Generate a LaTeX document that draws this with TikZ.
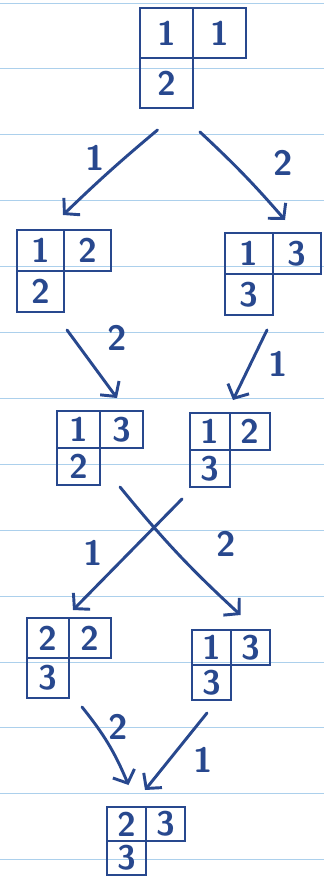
\documentclass[tikz,border=0pt]{standalone}
\usetikzlibrary{arrows.meta,calc}
\definecolor{ink}{RGB}{40,72,142}
\definecolor{ruling}{RGB}{172,208,236}
\newcommand{\pxu}{0.03cm}
% one tableau of shape (2,1): name, x, y, cell width, cell height, entries
\newcommand{\tabl}[8]{%
	\node[cell, minimum width=#4*\pxu, minimum height=#5*\pxu, anchor=north west] (#1-a) at (#2,#3) {#6};
	\node[cell, minimum width=#4*\pxu, minimum height=#5*\pxu, anchor=north west] (#1-b) at (#1-a.north east) {#7};
	\node[cell, minimum width=#4*\pxu, minimum height=#5*\pxu, anchor=north west] (#1-c) at (#1-a.south west) {#8};}

\begin{document}
\begin{tikzpicture}[x=\pxu, y=-\pxu,
	cell/.style={draw=ink, line width=2.5pt, inner sep=0pt, outer sep=0pt, text=ink, font=\sffamily\bfseries\fontsize{29}{29}\selectfont},
	arr/.style={draw=ink, line width=2.5pt, line cap=round, -{Straight Barb[length=9pt,width=20pt,line width=2.5pt]}},
	lbl/.style={text=ink, font=\sffamily\bfseries\fontsize{30}{30}\selectfont}]
	\useasboundingbox (0,0) rectangle (324,877);
	% the ruled paper
	\fill[white] (0,0) rectangle (324,877);
	\foreach \k in {0,...,13}
		\draw[ruling, line width=0.8pt] (0,3+65.9*\k) -- (324,3+65.9*\k);
	% tableaux, top to bottom
	\tabl{t0}{140}{8}{53}{50}{1}{1}{2}
	\tabl{t1}{17}{230}{47}{41}{1}{2}{2}
	\tabl{t2}{225}{233}{48}{41}{1}{3}{3}
	\tabl{t3}{57}{411}{43}{37}{1}{3}{2}
	\tabl{t4}{190}{413}{40}{37}{1}{2}{3}
	\tabl{t5}{27}{618}{42}{40}{2}{2}{3}
	\tabl{t6}{192}{630}{39}{35}{1}{3}{3}
	\tabl{t7}{107}{807}{39}{34}{2}{3}{3}
	% moves
	\draw[arr] ($(t0-c.south)+(-9,22)$) to[bend right=2] ($(t1-a.north east)+(-1,-15)$);
	\node[lbl] (m1) at (95,158) {1};
	\draw[arr] ($(t0-c.south east)+(7,24)$) to[bend left=3] ($(t2-b.north west)+(12,-13)$);
	\node[lbl] (m2) at (283,163) {2};
	\draw[arr] ($(t1-c.south east)+(3,18)$) -- ($(t3-a.north east)+(17,-13)$);
	\node[lbl] (m3) at (117,338) {2};
	\draw[arr] ($(t2-c.south east)+(-6,15)$) -- ($(t4-a.north east)+(3,-13)$);
	\node[lbl] (m4) at (278,364) {1};
	\draw[arr] ($(t3-c.south east)+(20,2)$) to[bend right=4] ($(t6-b.north)+(-10,-15)$);
	\node[lbl] (m5) at (226,544) {2};
	\draw[arr] ($(t4-c.south west)+(-8,12)$) -- ($(t5-a.north east)+(4,-8)$);
	\node[lbl] (m6) at (93,553) {1};
	\draw[arr] ($(t5-c.south east)+(13,9)$) to[bend left=8] ($(t7-a.north)+(2,-22)$);
	\node[lbl] (m7) at (118,727) {2};
	\draw[arr] ($(t6-c.south east)+(-24,13)$) -- ($(t7-b.north west)+(-1,-17)$);
	\node[lbl] (m8) at (203,760) {1};
\end{tikzpicture}
\end{document}
